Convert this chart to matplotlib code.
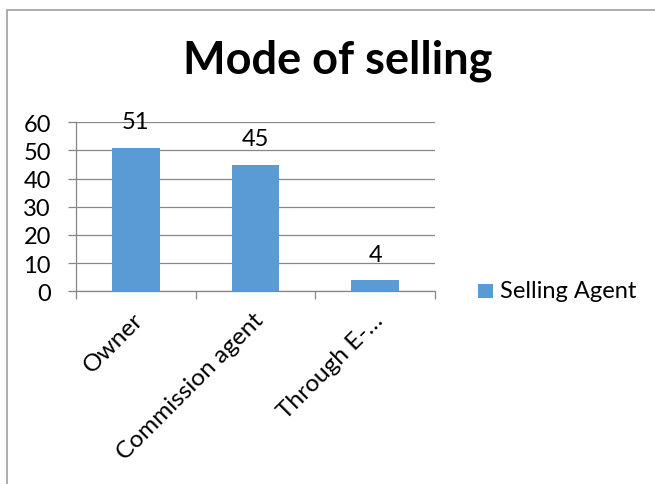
import matplotlib
matplotlib.use("Agg")
import matplotlib.pyplot as plt
from matplotlib.patches import Rectangle
import matplotlib.transforms as mtransforms

categories = ["Owner", "Commission agent", "Through E-\u2026"]
values = [51, 45, 4]
series_name = "Selling Agent"
title = "Mode of selling"
yticks = [0, 10, 20, 30, 40, 50, 60]

FONT = "Lato"
FS = 17
BAR = "#5B9BD5"
GRID = "#868686"

W, H = 655, 485
fig = plt.figure(figsize=(W / 100, H / 100), dpi=100)

# outer chart border (cropped at right / bottom)
fig.patches.append(Rectangle((7 / W, -0.1), 1.2, 1 - 11 / H + 0.1, transform=fig.transFigure,
                             fill=False, edgecolor="#A6A6A6", linewidth=1.3))

left, right, top, bottom = 76, 435, 123.3, 292.3
ax = fig.add_axes([left / W, 1 - bottom / H, (right - left) / W, (bottom - top) / H])

x = list(range(len(categories)))
ax.bar(x, values, width=0.4, color=BAR, zorder=3, label=series_name)
ax.set_xlim(-0.5, len(categories) - 0.5)
ax.set_ylim(0, 60)
ax.set_yticks(yticks)
ax.set_yticklabels([str(t) for t in yticks], fontsize=FS, family=FONT)
ax.yaxis.grid(True, color=GRID, linewidth=0.9, zorder=0)
ax.set_axisbelow(True)

for s in ["top", "right"]:
    ax.spines[s].set_visible(False)
for s in ["left", "bottom"]:
    ax.spines[s].set_color(GRID)
    ax.spines[s].set_linewidth(0.9)

ax.tick_params(axis="y", length=6, width=0.9, color=GRID, pad=12)
ax.set_xticks([i - 0.5 for i in range(len(categories) + 1)])
ax.set_xticklabels([])
ax.tick_params(axis="x", length=6, width=0.9, color=GRID, direction="out")

xform = mtransforms.blended_transform_factory(ax.transData, ax.transAxes) + \
    mtransforms.ScaledTranslation(3 / 72, -18 / 72, fig.dpi_scale_trans)
for i, lab in enumerate(categories):
    ax.text(i, 0, lab, transform=xform,
            rotation=45, rotation_mode="anchor", ha="right", va="center",
            fontsize=17.6, family=FONT)

for i, v in enumerate(values):
    ax.annotate(str(v), (i, v), xytext=(0, 11), textcoords="offset points",
                ha="center", va="bottom", fontsize=FS, family=FONT)

fig.text(338 / W, 1 - 61 / H, title, ha="center", va="center", fontsize=32.5,
         fontweight="bold", family=FONT)

# legend
fig.patches.append(Rectangle((478 / W, 1 - 299 / H), 15 / W, 14 / H, transform=fig.transFigure,
                             facecolor=BAR, edgecolor="none"))
fig.text(500 / W, 1 - 292 / H, series_name, ha="left", va="center", fontsize=FS, family=FONT)

fig.savefig("out.png", dpi=100)
